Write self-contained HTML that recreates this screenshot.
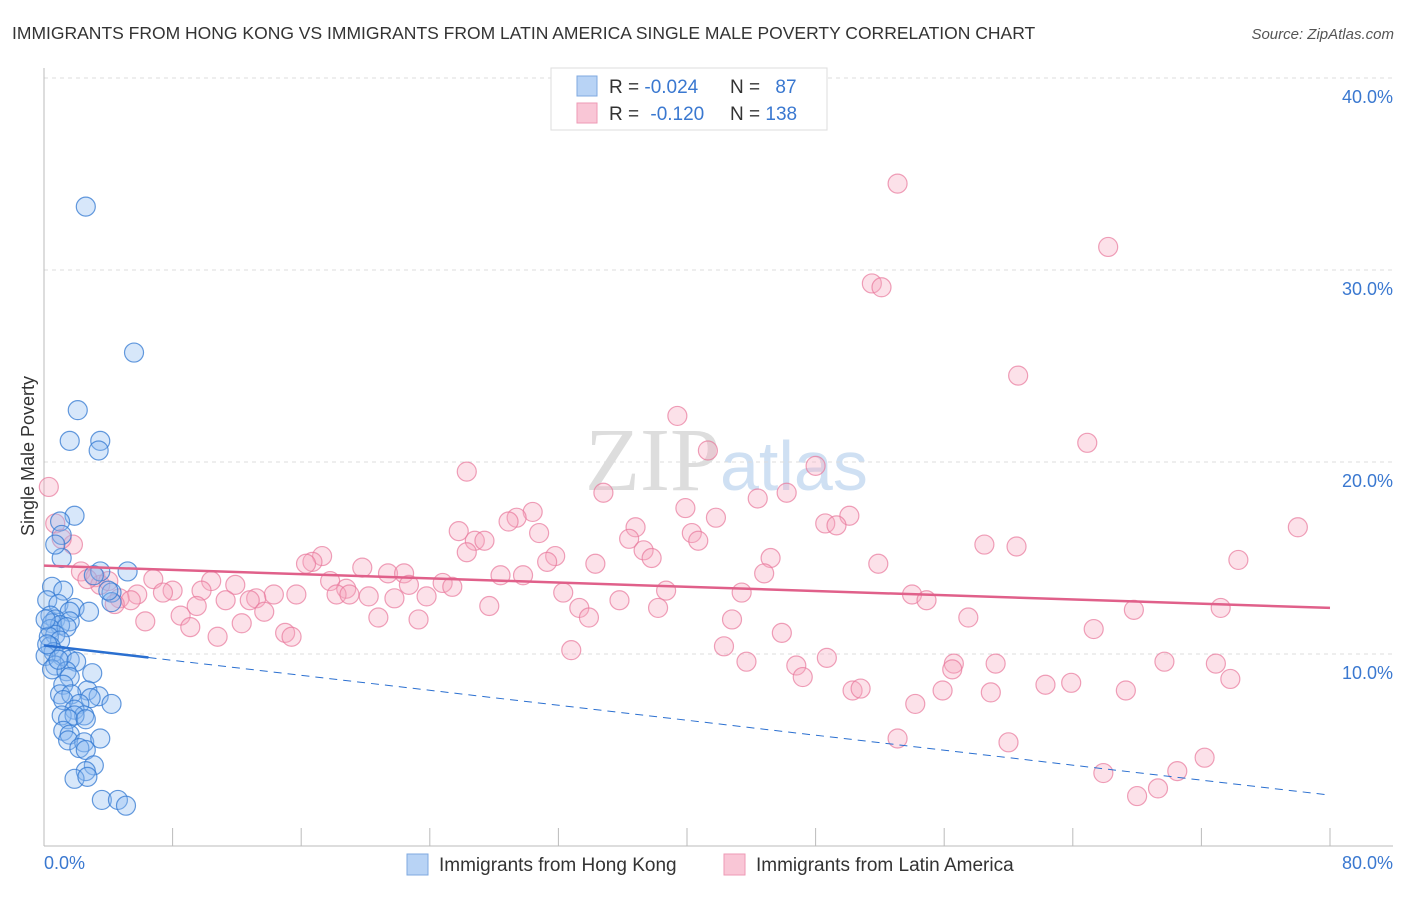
<!DOCTYPE html>
<html><head><meta charset="utf-8"><style>
body{margin:0;background:#fff;font-family:"Liberation Sans",sans-serif;}
</style></head><body>
<svg width="1406" height="892" xmlns="http://www.w3.org/2000/svg" style="font-family:'Liberation Sans',sans-serif">
<text x="12" y="39" font-size="17.5" fill="#333">IMMIGRANTS FROM HONG KONG VS IMMIGRANTS FROM LATIN AMERICA SINGLE MALE POVERTY CORRELATION CHART</text>
<text x="1394" y="39" font-size="15" fill="#555" font-style="italic" text-anchor="end">Source: ZipAtlas.com</text>
<text x="720" y="490" font-size="90" fill="#ddd" text-anchor="end" font-family="Liberation Serif">ZIP</text>
<text x="720" y="490" font-size="70" fill="#cfe0f3">atlas</text>
<g id="grid"></g>
<g id="axes"></g>
<g id="pts"></g>
<g id="trend"></g>
<text transform="translate(34,456) rotate(-90)" font-size="18" fill="#333" text-anchor="middle">Single Male Poverty</text>
<text x="44" y="869" font-size="18" fill="#3a78d0">0.0%</text>
<text x="1393" y="869" font-size="18" fill="#3a78d0" text-anchor="end">80.0%</text>
<g>
<rect x="551" y="68" width="276" height="62" fill="#fff" stroke="#ddd"/>
<rect x="577" y="76" width="20" height="20" fill="#b8d3f5" stroke="#7fa9e0"/>
<rect x="577" y="103" width="20" height="20" fill="#f9c6d6" stroke="#ee9ab5"/>
<text x="609" y="93" font-size="19" fill="#333">R = <tspan fill="#3a78d0">-0.024</tspan></text>
<text x="730" y="93" font-size="19" fill="#333">N = <tspan fill="#3a78d0" dx="10">87</tspan></text>
<text x="609" y="120" font-size="19" fill="#333">R = <tspan fill="#3a78d0" dx="6">-0.120</tspan></text>
<text x="730" y="120" font-size="19" fill="#333">N = <tspan fill="#3a78d0">138</tspan></text>
</g>
<g>
<rect x="407" y="854" width="21" height="21" fill="#b8d3f5" stroke="#7fa9e0"/>
<text x="439" y="871" font-size="19" fill="#333">Immigrants from Hong Kong</text>
<rect x="724" y="854" width="21" height="21" fill="#f9c6d6" stroke="#ee9ab5"/>
<text x="756" y="871" font-size="19" fill="#333">Immigrants from Latin America</text>
</g>
</svg>
<script>
const yTicks=[10,20,30,40];
const yTickLabels=["10.0%","20.0%","30.0%","40.0%"];
const xTicks=[0,8,16,24,32,40,48,56,64,72,80];
const pinkX=[53.1,66.2,51.5,52.1,60.6,39.4,64.9,41.3,26.3,48.0,34.8,46.2,44.4,0.3,39.9,30.4,29.4,28.9,41.8,50.1,48.6,49.3,78.0,36.8,25.8,30.8,40.3,0.7,36.4,40.7,26.8,27.4,58.5,60.5,1.8,1.1,37.3,26.3,31.8,17.3,16.7,45.2,37.8,74.3,31.3,34.3,16.3,51.9,19.8,2.3,21.4,22.4,28.4,29.8,44.8,3.2,6.8,10.4,17.8,24.8,22.7,3.5,2.7,11.9,25.4,4.0,18.8,8.0,9.8,38.7,15.7,18.2,14.3,19.0,7.4,5.8,43.4,32.3,20.2,23.8,13.2,21.8,54.0,4.7,5.4,12.8,11.3,35.8,54.9,4.4,9.5,27.7,38.2,67.8,73.2,33.3,13.7,8.5,20.8,23.3,33.9,42.8,57.5,6.3,12.3,9.1,65.3,45.9,15.0,15.4,10.8,42.3,32.8,43.7,48.7,69.7,59.2,56.6,72.9,46.8,56.5,47.2,73.8,62.3,63.9,50.3,50.8,55.9,58.9,67.3,54.2,53.1,60.0,72.2,65.9,70.5,69.3,68.0];
const pinkY=[34.5,31.2,29.3,29.1,24.5,22.4,21.0,20.6,19.5,19.8,18.4,18.4,18.1,18.7,17.6,17.4,17.1,16.9,17.1,17.2,16.8,16.7,16.6,16.6,16.4,16.3,16.3,16.8,16.0,15.9,15.9,15.9,15.7,15.6,15.7,16.0,15.4,15.3,15.1,15.1,14.8,15.0,15.0,14.9,14.8,14.7,14.7,14.7,14.5,14.3,14.2,14.2,14.1,14.1,14.2,14.0,13.9,13.8,13.8,13.7,13.6,13.6,13.9,13.6,13.5,13.8,13.4,13.3,13.3,13.3,13.1,13.1,13.1,13.1,13.2,13.1,13.2,13.2,13.0,13.0,12.9,12.9,13.1,12.9,12.8,12.8,12.8,12.8,12.8,12.6,12.5,12.5,12.4,12.3,12.4,12.4,12.2,12.0,11.9,11.8,11.9,11.8,11.9,11.7,11.6,11.4,11.3,11.1,11.1,10.9,10.9,10.4,10.2,9.6,9.8,9.6,9.5,9.5,9.5,9.4,9.2,8.8,8.7,8.4,8.5,8.1,8.2,8.1,8.0,8.1,7.4,5.6,5.4,4.6,3.8,3.9,3.0,2.6];
const blueX=[2.6,5.6,2.1,1.6,3.5,3.4,1.9,1.0,1.1,1.1,3.5,3.1,0.5,1.2,4.2,0.2,0.9,1.9,2.8,1.6,4.2,0.4,0.7,1.6,0.5,1.0,0.4,1.4,0.7,0.3,1.0,0.4,0.6,1.1,0.1,1.6,2.0,0.7,0.5,1.4,3.0,1.6,1.2,2.7,1.0,1.7,3.4,2.9,1.2,2.2,4.2,1.9,1.1,2.5,1.9,1.5,2.6,1.2,1.6,1.5,2.5,3.5,2.2,2.6,3.1,2.6,1.9,2.7,3.6,4.6,5.1,4.0,5.2,0.7,0.1,0.2,0.9];
const blueY=[33.3,25.7,22.7,21.1,21.1,20.6,17.2,16.9,16.2,15.0,14.3,14.1,13.5,13.3,13.2,12.8,12.6,12.4,12.2,12.2,12.7,12.0,11.8,11.7,11.6,11.5,11.3,11.4,11.0,10.9,10.7,10.4,10.1,9.9,9.9,9.7,9.6,9.4,9.2,9.1,9.0,8.8,8.4,8.1,7.9,7.9,7.8,7.7,7.6,7.4,7.4,7.1,6.8,6.8,6.8,6.6,6.6,6.0,5.8,5.5,5.4,5.6,5.1,5.0,4.2,3.9,3.5,3.6,2.4,2.4,2.1,13.3,14.3,15.7,11.8,10.5,9.7];
const pinkTrend=[14.6,12.4];
const blueTrend=[10.45,2.65];
const blueSolidEnd=6.5;
const NS="http://www.w3.org/2000/svg";
const X=v=>44+v/80*1286, Y=v=>846-v*19.2;
function mk(t,a,p){const e=document.createElementNS(NS,t);for(const k in a)e.setAttribute(k,a[k]);document.getElementById(p).appendChild(e);return e;}
yTicks.forEach((t,i)=>{
 const l=mk('line',{x1:44,x2:1393,y1:Y(t),y2:Y(t),stroke:'#ddd','stroke-dasharray':'4,4'},'grid');
 
 
 const tx=mk('text',{x:1393,y:Y(t)+25,'font-size':18,fill:'#3a78d0','text-anchor':'end'},'grid');
 tx.textContent=yTickLabels[i];
 
 
});
let a=mk('line',{x1:44,x2:44,y1:68,y2:846,stroke:'#bbb'},'axes');


a=mk('line',{x1:44,x2:1393,y1:846,y2:846,stroke:'#bbb'},'axes');


xTicks.forEach(t=>{const l=mk('line',{x1:X(t),x2:X(t),y1:828,y2:846,stroke:'#bbb'},'axes');
 
 });
pinkX.forEach((v,i)=>{const c=mk('circle',{cx:X(v),cy:Y(pinkY[i]),r:9.5,fill:'rgba(246,168,193,0.35)',stroke:'rgba(232,120,155,0.7)','stroke-width':1.2},'pts');
 
 });
blueX.forEach((v,i)=>{const c=mk('circle',{cx:X(v),cy:Y(blueY[i]),r:9.5,fill:'rgba(140,185,240,0.35)',stroke:'rgba(50,120,210,0.75)','stroke-width':1.2},'pts');
 
 });
let t=mk('line',{x1:X(0),y1:Y(pinkTrend[0]),x2:X(80),y2:Y(pinkTrend[1]),stroke:'#e0608a','stroke-width':2.5},'trend');


const bAt=v=>blueTrend[0]+(blueTrend[1]-blueTrend[0])*v/80;
t=mk('line',{x1:X(0),y1:Y(bAt(0)),x2:X(blueSolidEnd),y2:Y(bAt(blueSolidEnd)),stroke:'#2a6fd0','stroke-width':2.5},'trend');


t=mk('line',{x1:X(blueSolidEnd),y1:Y(bAt(blueSolidEnd)),x2:X(80),y2:Y(bAt(80)),stroke:'#2a6fd0','stroke-width':1,'stroke-dasharray':'8,6'},'trend');


</script>
</body></html>
